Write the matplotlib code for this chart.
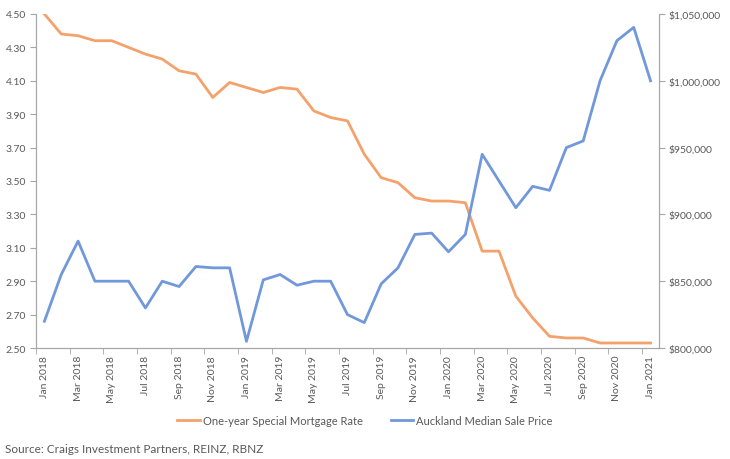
import matplotlib
matplotlib.use("Agg")
import matplotlib.pyplot as plt
from matplotlib.ticker import FuncFormatter

plt.rcParams["font.family"] = ["Lato", "DejaVu Sans"]

months = ["Jan", "Feb", "Mar", "Apr", "May", "Jun", "Jul", "Aug", "Sep", "Oct", "Nov", "Dec"]
dates = [f"{m} {y}" for y in (2018, 2019, 2020) for m in months] + ["Jan 2021"]

mortgage_rate = [4.50, 4.38, 4.37, 4.34, 4.34, 4.30, 4.26, 4.23, 4.16, 4.14, 4.00, 4.09,
                 4.06, 4.03, 4.06, 4.05, 3.92, 3.88, 3.86, 3.66, 3.52, 3.49, 3.40, 3.38,
                 3.38, 3.37, 3.08, 3.08, 2.81, 2.68, 2.57, 2.56, 2.56, 2.53, 2.53, 2.53,
                 2.53]

median_price = [820000, 855000, 880000, 850000, 850000, 850000, 830000, 850000, 846000, 861000, 860000, 860000,
                805000, 851000, 855000, 847000, 850000, 850000, 825000, 819000, 848000, 860000, 885000, 886000,
                872000, 885000, 945000, 925000, 905000, 921000, 918000, 950000, 955000, 1000000, 1030000, 1040000,
                1000000]

orange = "#F4A26C"
blue = "#7098DA"
grey_text = "#595959"
axis_grey = "#A6A6A6"

fig = plt.figure(figsize=(7.3, 4.6), dpi=100)
ax1 = fig.add_axes([0.0493, 0.2413, 0.8534, 0.7261])
ax2 = ax1.twinx()

x = list(range(len(dates)))
l1, = ax1.plot(x, mortgage_rate, color=orange, lw=2, label="One-year Special Mortgage Rate")
l2, = ax2.plot(x, median_price, color=blue, lw=2, label="Auckland Median Sale Price")

ax1.set_xlim(-0.5, len(dates) - 0.5)
ax1.set_ylim(2.5, 4.5)
ax1.set_yticks([2.5 + 0.2 * i for i in range(11)])
ax1.yaxis.set_major_formatter(FuncFormatter(lambda v, p: f"{v:.2f}"))

ax2.set_ylim(800000, 1050000)
ax2.set_yticks(range(800000, 1050001, 50000))
ax2.yaxis.set_major_formatter(FuncFormatter(lambda v, p: f"${v:,.0f}"))

ax1.set_xticks(x[::2])
ax1.set_xticklabels(dates[::2], rotation=90)
ax1.set_xticks([i - 0.5 for i in range(0, len(dates) + 1, 2)], minor=True)
ax1.tick_params(axis="x", which="major", length=0, pad=5)
ax1.tick_params(axis="x", which="minor", length=4, color=axis_grey)

for ax in (ax1, ax2):
    ax.spines["top"].set_visible(False)
    for s in ("left", "right", "bottom"):
        ax.spines[s].set_color(axis_grey)
    ax.tick_params(colors=grey_text, labelsize=7.5)
ax1.tick_params(axis="y", length=4, color=axis_grey, pad=3)
ax2.tick_params(axis="y", length=4, color=axis_grey, pad=3)
ax1.tick_params(axis="x", which="minor", color=axis_grey)

fig.legend(handles=[l1, l2], loc="center", bbox_to_anchor=(0.5, 0.083), ncol=2, frameon=False,
           fontsize=8, labelcolor=grey_text, handlelength=2, columnspacing=2.5, handletextpad=0.3)

fig.text(0.007, 0.015, "Source: Craigs Investment Partners, REINZ, RBNZ", fontsize=8.5, color=grey_text)

fig.savefig("out.png", dpi=100)
